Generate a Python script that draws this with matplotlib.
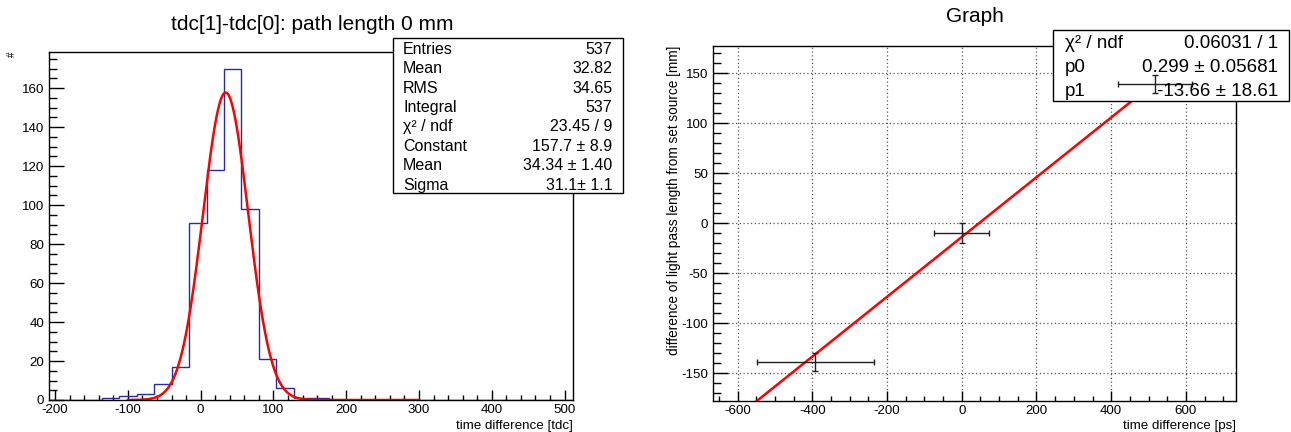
import numpy as np
import matplotlib
matplotlib.use("Agg")
import matplotlib.pyplot as plt
from matplotlib.patches import Rectangle
from matplotlib.ticker import MultipleLocator

plt.rcParams['font.family'] = ['Liberation Sans', 'DejaVu Sans']
plt.rcParams['axes.unicode_minus'] = False

# ---------------- data: left histogram ----------------
hist_title = "tdc[1]-tdc[0]: path length 0 mm"
hist_xmin, hist_xmax, hist_nbins = -208, 512, 30
hist_counts = [0, 0, 0, 1, 2, 3, 8, 17, 91, 118, 170, 98, 21, 6, 1, 1,
               0, 0, 0, 0, 0, 0, 0, 0, 0, 0, 0, 0, 0, 0]
gaus_const, gaus_mean, gaus_sigma = 157.7, 34.34, 31.1
gaus_range = (-100, 300)
hist_stats_labels = ["Entries", "Mean", "RMS", "Integral", "χ² / ndf",
                     "Constant", "Mean", "Sigma"]
hist_stats_values = ["537", "32.82", "34.65", "537", "23.45 / 9",
                     "157.7 ± 8.9", "34.34 ± 1.40", "31.1± 1.1"]

# ---------------- data: right graph ----------------
graph_title = "Graph"
graph_x = [-392, 0, 518]
graph_y = [-139, -10, 139]
graph_xerr = [156, 74, 99]
graph_yerr = [9, 10, 9]
fit_p0, fit_p1 = 0.299, -13.66
graph_stats_labels = ["χ² / ndf", "p0", "p1"]
graph_stats_values = ["0.06031 / 1", "0.299 ± 0.05681", "-13.66 ± 18.61"]

W, H = 1291, 432
fig = plt.figure(figsize=(W / 100, H / 100), dpi=100)


def fx(px):
    return px / W


def fy(py):
    return 1 - py / H


def stats_box(ax, x0, x1, y0, y1, labels, values, fs, lpad, rpad):
    rect = Rectangle((fx(x0), fy(y1)), fx(x1) - fx(x0), fy(y0) - fy(y1),
                     transform=fig.transFigure, facecolor='white',
                     edgecolor='black', lw=1.0, zorder=3, clip_on=False)
    ax.add_artist(rect)
    n = len(labels)
    h = (y1 - y0) / n
    for i, (lab, val) in enumerate(zip(labels, values)):
        yc = y0 + (i + 0.5) * h
        ax.text(fx(x0 + lpad), fy(yc), lab, transform=fig.transFigure,
                ha='left', va='center_baseline', fontsize=fs, zorder=5,
                clip_on=False)
        ax.text(fx(x1 - rpad), fy(yc), val, transform=fig.transFigure,
                ha='right', va='center_baseline', fontsize=fs, zorder=5,
                clip_on=False)


def style_axis(ax, xlen_maj, ylen_maj):
    for s in ax.spines.values():
        s.set_linewidth(1.0)
    ax.tick_params(axis='x', which='major', direction='in', length=xlen_maj,
                   width=1.0, labelsize=9.6, pad=3.0, top=False)
    ax.tick_params(axis='x', which='minor', direction='in', length=xlen_maj / 2,
                   width=1.0, top=False)
    ax.tick_params(axis='y', which='major', direction='in', length=ylen_maj,
                   width=1.0, labelsize=9.6, pad=3.8, right=False)
    ax.tick_params(axis='y', which='minor', direction='in', length=ylen_maj / 2,
                   width=1.0, right=False)


# ---------------- left: histogram ----------------
ax1 = fig.add_axes([fx(49.3), fy(400), fx(573.3) - fx(49.3), fy(52) - fy(400)])
edges = np.linspace(hist_xmin, hist_xmax, hist_nbins + 1)
ax1.stairs(hist_counts, edges, color='#2a2aa6', lw=1.0, baseline=0, zorder=2)
xg = np.linspace(gaus_range[0], gaus_range[1], 800)
ax1.plot(xg, gaus_const * np.exp(-0.5 * ((xg - gaus_mean) / gaus_sigma) ** 2),
         color='#ff0000', lw=1.8, zorder=2.2)
ax1.set_xlim(hist_xmin, hist_xmax)
ax1.set_ylim(0, 1.05 * max(hist_counts))
ax1.xaxis.set_major_locator(MultipleLocator(100))
ax1.xaxis.set_minor_locator(MultipleLocator(20))
ax1.yaxis.set_major_locator(MultipleLocator(20))
ax1.yaxis.set_minor_locator(MultipleLocator(5))
style_axis(ax1, 7.2, 10.8)
fig.text(fx(312.6), fy(25), hist_title, ha='center', va='center', fontsize=15)
fig.text(fx(573.3), fy(431.5), "time difference [tdc]", ha='right',
         va='bottom', fontsize=9.6)
fig.text(fx(12), fy(52), "#", ha='center', va='top', rotation=90, fontsize=7)
stats_box(ax1, 392.7, 623, 38.3, 193.3, hist_stats_labels, hist_stats_values,
          11.5, 10.5, 10.5)

# ---------------- right: graph ----------------
ax2 = fig.add_axes([fx(713.3), fy(401), fx(1236) - fx(713.3), fy(45.7) - fy(401)])
ax2.set_axisbelow(True)
ax2.grid(True, which='major', color='#555555', linestyle=(0, (1, 2)), lw=0.9)
ax2.set_xlim(-665, 734)
ax2.set_ylim(-177.7, 177.7)
xl = np.array(ax2.get_xlim())
ax2.plot(xl, fit_p1 + fit_p0 * xl, color='#ff0000', lw=1.8, zorder=2)
ax2.errorbar(graph_x, graph_y, xerr=graph_xerr, yerr=graph_yerr, fmt='none',
             ecolor='#222222', elinewidth=1.0, capsize=2, capthick=1.0, zorder=4)
ax2.xaxis.set_major_locator(MultipleLocator(200))
ax2.xaxis.set_minor_locator(MultipleLocator(50))
ax2.yaxis.set_major_locator(MultipleLocator(50))
ax2.yaxis.set_minor_locator(MultipleLocator(10))
style_axis(ax2, 7.2, 10.8)
fig.text(fx(974.7), fy(16), graph_title, ha='center', va='center', fontsize=15)
fig.text(fx(1236), fy(431.5), "time difference [ps]", ha='right',
         va='bottom', fontsize=9.6)
fig.text(fx(674.5), fy(46), "difference of light pass length from set source [mm]",
         ha='center', va='top', rotation=90, fontsize=9.8)
stats_box(ax2, 1053.3, 1289.3, 30, 101, graph_stats_labels, graph_stats_values,
          13.5, 11.5, 11)

fig.savefig("out.png", dpi=100)
